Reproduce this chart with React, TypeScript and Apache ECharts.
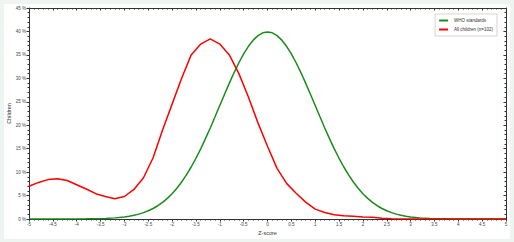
import React, { useEffect, useRef } from "react";
import * as echarts from "echarts";

const redZ = [-5, -4.8, -4.6, -4.4, -4.2, -4.0, -3.8, -3.6, -3.4, -3.2, -3.0, -2.8, -2.6, -2.4, -2.2, -2.0, -1.8, -1.6, -1.4, -1.2, -1.0, -0.8, -0.6, -0.4, -0.2, 0.0, 0.2, 0.4, 0.6, 0.8, 1.0, 1.2, 1.4, 1.6, 1.8, 2.0, 2.2, 2.4, 2.6, 2.8, 3.0, 3.5, 4.0, 4.5, 5.0];
const redValues = [7.0, 7.8, 8.4, 8.6, 8.2, 7.3, 6.4, 5.4, 4.8, 4.3, 4.8, 6.3, 8.8, 13.0, 19.0, 24.5, 30.0, 35.0, 37.3, 38.4, 37.3, 35.0, 31.0, 26.0, 20.5, 15.5, 10.8, 7.6, 5.5, 3.6, 2.1, 1.4, 0.9, 0.7, 0.6, 0.45, 0.35, 0.15, 0.05, 0, 0, 0, 0, 0, 0];

const greenZ = [-5, -4.5, -4.0, -3.8, -3.6, -3.4, -3.2, -3.0, -2.9, -2.8, -2.7, -2.6, -2.5, -2.4, -2.3, -2.2, -2.1, -2.0, -1.9, -1.8, -1.7, -1.6, -1.5, -1.4, -1.3, -1.2, -1.1, -1.0, -0.9, -0.8, -0.7, -0.6, -0.5, -0.4, -0.3, -0.2, -0.1, 0.0, 0.1, 0.2, 0.3, 0.4, 0.5, 0.6, 0.7, 0.8, 0.9, 1.0, 1.1, 1.2, 1.3, 1.4, 1.5, 1.6, 1.7, 1.8, 1.9, 2.0, 2.1, 2.2, 2.3, 2.4, 2.5, 2.6, 2.7, 2.8, 2.9, 3.0, 3.2, 3.4, 3.6, 3.8, 4.0, 4.5, 5.0];
const greenValues = [0, 0, 0.01, 0.03, 0.06, 0.12, 0.24, 0.44, 0.6, 0.79, 1.04, 1.36, 1.75, 2.24, 2.83, 3.55, 4.4, 5.4, 6.56, 7.9, 9.4, 11.09, 12.95, 14.97, 17.14, 19.42, 21.79, 24.2, 26.61, 28.97, 31.23, 33.32, 35.21, 36.83, 38.14, 39.1, 39.7, 39.89, 39.7, 39.1, 38.14, 36.83, 35.21, 33.32, 31.23, 28.97, 26.61, 24.2, 21.79, 19.42, 17.14, 14.97, 12.95, 11.09, 9.4, 7.9, 6.56, 5.4, 4.4, 3.55, 2.83, 2.24, 1.75, 1.36, 1.04, 0.79, 0.6, 0.44, 0.24, 0.12, 0.06, 0.03, 0.01, 0, 0];

const seriesNames = ["WHO standards", "All children (n=102)"];
const xTitle = "Z-score";
const yTitle = "Children";

export default function App() {
  const ref = useRef<HTMLDivElement>(null);
  useEffect(() => {
    document.body.style.margin = "0";
    const chart = echarts.init(ref.current!, null, { renderer: "svg" });
    const font = "Liberation Sans, Arial, sans-serif";
    const axisLine = { show: true, onZero: false, lineStyle: { color: "#333", width: 1 } };
    chart.setOption({
      animation: false,
      backgroundColor: "#ffffff",
      textStyle: { fontFamily: font },
      grid: { left: 25, right: 4, top: 4, bottom: 20, containLabel: false, outerBoundsMode: "none" },
      legend: {
        right: 13,
        top: 10,
        orient: "vertical",
        backgroundColor: "#fff",
        borderColor: "#aaa",
        borderWidth: 0.5,
        padding: [4, 4, 4, 4],
        itemWidth: 9,
        itemHeight: 2,
        itemGap: 4,
        icon: "rect",
        textStyle: { fontSize: 4.5, color: "#333", fontFamily: font, padding: [0, 0, 0, 1] },
        data: seriesNames,
      },
      xAxis: [
        {
          type: "value",
          min: -5,
          max: 5,
          interval: 0.5,
          name: xTitle,
          nameLocation: "middle",
          nameGap: 11,
          nameMoveOverlap: false,
          nameTextStyle: { fontSize: 5.5, color: "#333", fontFamily: font },
          axisLine,
          axisTick: { show: true, length: 2.5, inside: false, lineStyle: { color: "#333" } },
          minorTick: { show: true, splitNumber: 5, length: 1.5, lineStyle: { color: "#333" } },
          axisLabel: { fontSize: 4.5, color: "#444", margin: 3, fontFamily: font },
          splitLine: { show: false },
        },
        {
          type: "value",
          position: "top",
          min: -5,
          max: 5,
          interval: 0.5,
          axisLine,
          axisTick: { show: true, length: 2.5, inside: true, lineStyle: { color: "#333" } },
          minorTick: { show: true, splitNumber: 5, length: 1.5, lineStyle: { color: "#333" } },
          axisLabel: { show: false },
          splitLine: { show: false },
        },
      ],
      yAxis: [
        {
          type: "value",
          min: 0,
          max: 45,
          interval: 5,
          name: yTitle,
          nameLocation: "middle",
          nameGap: 17,
          nameMoveOverlap: false,
          nameTextStyle: { fontSize: 5.5, color: "#333", fontFamily: font },
          axisLine,
          axisTick: { show: true, length: 2.5, inside: false, lineStyle: { color: "#333" } },
          minorTick: { show: true, splitNumber: 5, length: 1.5, lineStyle: { color: "#333" } },
          axisLabel: { fontSize: 4.5, color: "#444", margin: 3, formatter: "{value} %", fontFamily: font },
          splitLine: { show: false },
        },
        {
          type: "value",
          position: "right",
          min: 0,
          max: 45,
          interval: 5,
          axisLine,
          axisTick: { show: true, length: 2.5, inside: true, lineStyle: { color: "#333" } },
          minorTick: { show: true, splitNumber: 5, length: 1.5, lineStyle: { color: "#333" } },
          axisLabel: { show: false },
          splitLine: { show: false },
        },
      ],
      series: [
        {
          name: seriesNames[0],
          type: "line",
          data: greenZ.map((z, i) => [z, greenValues[i]]),
          showSymbol: false,
          smooth: false,
          lineStyle: { color: "#1a8c1a", width: 1.5 },
          itemStyle: { color: "#1a8c1a" },
          z: 3,
        },
        {
          name: seriesNames[1],
          type: "line",
          data: redZ.map((z, i) => [z, redValues[i]]),
          showSymbol: false,
          smooth: false,
          lineStyle: { color: "#ff0000", width: 1.5 },
          itemStyle: { color: "#ff0000" },
          z: 4,
        },
      ],
    });
    return () => chart.dispose();
  }, []);
  return (
    <div style={{ position: "relative", width: 514, height: 242, background: "#eef5f1" }}>
      <div ref={ref} style={{ position: "absolute", left: 4, top: 4, width: 506, height: 235 }} />
    </div>
  );
}
